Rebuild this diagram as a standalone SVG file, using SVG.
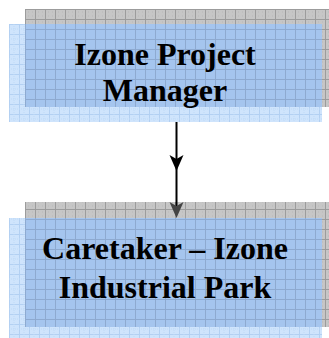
<svg xmlns="http://www.w3.org/2000/svg" width="329" height="338" viewBox="0 0 329 338">
  <defs>
    <!-- coarse grid used on the grey backing panels -->
    <pattern id="greyGrid" width="10" height="10" patternUnits="userSpaceOnUse" x="25" y="9">
      <rect width="10" height="10" fill="#c6c6c6"/>
      <path d="M0 0.5H10M0.5 0V10" stroke="#9c9c9c" stroke-width="1"/>
      <path d="M3 3h1M7 7h1M7 3h1M3 7h1" stroke="#b8b8b8" stroke-width="1"/>
    </pattern>
    <!-- light blue panel with a fine grid -->
    <pattern id="blueGrid" width="10" height="10" patternUnits="userSpaceOnUse" x="9" y="24">
      <rect width="10" height="10" fill="#cfe4fc"/>
      <path d="M0 0.5H10M0.5 0V10" stroke="#b3d0f2" stroke-width="1"/>
      <path d="M5 0V10M0 5H10" stroke="#bfdaf7" stroke-width="1" stroke-dasharray="1 1"/>
    </pattern>
    <!-- where the blue panel lies over the grey one -->
    <pattern id="mixGrid" width="10" height="10" patternUnits="userSpaceOnUse" x="25" y="9">
      <rect width="10" height="10" fill="#a5c5ee"/>
      <path d="M0 0.5H10M0.5 0V10" stroke="#8eaad0" stroke-width="1"/>
    </pattern>
    <path id="barb" d="M-7 -16L0 -12L7 -16L0 0Z"/>
  </defs>
  <style>
    .label { font-family: "Liberation Serif", "Times New Roman", serif; font-weight: bold; font-size: 32px; fill: #000; text-anchor: middle; }
    .back { fill: url(#greyGrid); }
    .front { fill: url(#blueGrid); }
    .mix { fill: url(#mixGrid); }
  </style>

  <g id="node-manager">
    <rect class="back" x="25" y="9" width="304" height="98"/>
    <rect class="front" x="9" y="24" width="313" height="98"/>
    <rect class="mix" x="25" y="24" width="297" height="83"/>
    <text class="label" x="165" y="65">Izone Project</text>
    <text class="label" x="165" y="101">Manager</text>
  </g>

  <g id="node-caretaker">
    <rect class="back" x="25" y="202" width="304" height="125"/>
    <rect class="front" x="9" y="218" width="313" height="120"/>
    <rect class="mix" x="25" y="218" width="297" height="109"/>
    <text class="label" x="165" y="259">Caretaker – Izone</text>
    <text class="label" x="165" y="298">Industrial Park</text>
  </g>

  <g id="connectors">
    <line x1="176.5" y1="122" x2="176.5" y2="214" stroke="#000" stroke-width="2"/>
    <use href="#barb" x="176.5" y="171" fill="#000"/>
    <use href="#barb" x="176.5" y="218" fill="#444"/>
  </g>
</svg>
